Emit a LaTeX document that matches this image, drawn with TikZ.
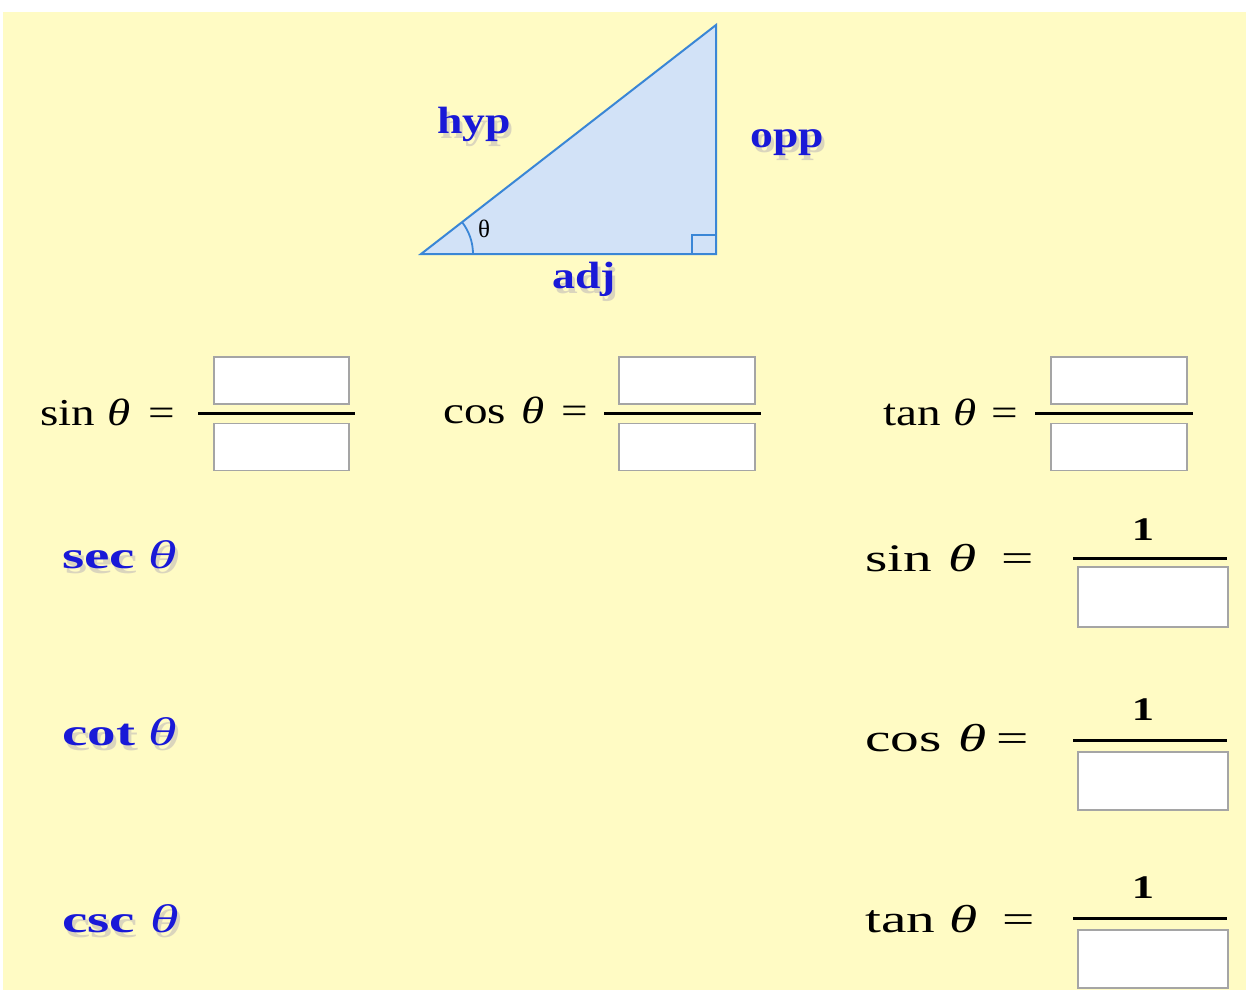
\documentclass[tikz,border=0pt]{standalone}
\usepackage{fontspec}
\setmainfont{Liberation Serif}
\usepackage{graphicx}
\definecolor{bg}{RGB}{255,251,196}
\definecolor{tri}{RGB}{210,226,247}
\definecolor{triline}{RGB}{58,134,214}
\definecolor{lab}{RGB}{25,25,215}
\definecolor{boxline}{RGB}{165,165,165}
\definecolor{shadowc}{RGB}{110,100,170}
\newcommand\Tx[3]{{\fontsize{#1}{#1}\selectfont\scalebox{#2}[1]{#3}}}
\newcommand\BlueLabel[4]{%
  \node[shd] (#1s) at (#2+3,#3+5) {#4};
  \node[lbl] (#1) at (#2,#3) {#4};}
\tikzset{
  lbl/.style={anchor=base west, inner sep=0pt, text=lab},
  shd/.style={anchor=base west, inner sep=0pt, text=shadowc, opacity=0.25},
  eqtext/.style={anchor=base west, inner sep=0pt, text=black},
  onetext/.style={anchor=base, inner sep=0pt, text=black},
  ansbox/.style={draw=boxline, fill=white, line width=1.6pt, inner sep=0pt},
  fracline/.style={draw=black, line width=3pt},
}
\newcommand\RA[1]{\Tx{38}{1.24}{#1}}
\newcommand\RB[1]{\Tx{39}{1.47}{#1}}
\begin{document}
\begin{tikzpicture}[x=1pt,y=-1pt]
\useasboundingbox (0,0) rectangle (1246,994);
\fill[white] (0,0) rectangle (1246,994);
\fill[bg] (3,12) rectangle (1246,990);

% triangle
\coordinate (A) at (421,254);
\coordinate (B) at (716,254);
\coordinate (C) at (716,25);
\filldraw[fill=tri, draw=triline, line width=2pt, line join=miter] (A) -- (B) -- (C) -- cycle;
\draw[triline, line width=1.8pt] (692,254) -- (692,235) -- (716,235);
\draw[triline, line width=1.8pt] (473,254) arc[start angle=0, end angle=-37.8, radius=52];
\node[eqtext] (th) at (478,237) {\Tx{25}{1}{θ}};

\BlueLabel{hyp}{437}{133}{\Tx{38}{1.2}{\bfseries hyp}}
\BlueLabel{opp}{750}{147}{\Tx{38}{1.2}{\bfseries opp}}
\BlueLabel{adj}{552}{288}{\Tx{38}{1.2}{\bfseries adj}}

% row 1
\node[eqtext] (sinA) at (40,425) {\RA{sin}};
\node[eqtext] (sinAt) at (107,425) {\RA{\itshape θ}};
\node[eqtext] (sinAe) at (148,425) {\RA{=}};
\node[ansbox, minimum width=135pt, minimum height=47pt] (sinN) at (281.5,380.5) {};
\node[ansbox, minimum width=135pt, minimum height=47pt] (sinD) at (281.5,447) {};
\draw[fracline] (198,413) -- (355,413);

\node[eqtext] (cosA) at (443,423) {\RA{cos}};
\node[eqtext] (cosAt) at (521,423) {\RA{\itshape θ}};
\node[eqtext] (cosAe) at (561,423) {\RA{=}};
\node[ansbox, minimum width=136pt, minimum height=47pt] (cosN) at (687,380.5) {};
\node[ansbox, minimum width=136pt, minimum height=47pt] (cosD) at (687,447) {};
\draw[fracline] (604,413) -- (761,413);

\node[eqtext] (tanA) at (883,425) {\RA{tan}};
\node[eqtext] (tanAt) at (953,425) {\RA{\itshape θ}};
\node[eqtext] (tanAe) at (991,425) {\RA{=}};
\node[ansbox, minimum width=136pt, minimum height=47pt] (tanN) at (1119,380.5) {};
\node[ansbox, minimum width=136pt, minimum height=47pt] (tanD) at (1119,447) {};
\draw[fracline] (1035,413) -- (1193,413);

% left labels
\BlueLabel{sec}{62}{568}{\Tx{38}{1.5}{\bfseries sec}}
\BlueLabel{secT}{148}{568}{\Tx{40}{1.45}{\itshape θ}}
\BlueLabel{cot}{62}{745}{\Tx{38}{1.5}{\bfseries cot}}
\BlueLabel{cotT}{148}{745}{\Tx{40}{1.45}{\itshape θ}}
\BlueLabel{csc}{62}{932}{\Tx{38}{1.5}{\bfseries csc}}
\BlueLabel{cscT}{150}{932}{\Tx{40}{1.45}{\itshape θ}}

% right column
\node[eqtext] (sinB) at (865,571) {\RB{sin}};
\node[eqtext] (sinBt) at (948,571) {\RB{\itshape θ}};
\node[eqtext] (sinBe) at (1001,571) {\RB{=}};
\node[onetext] (oneA) at (1143,540) {\Tx{33}{1.35}{\bfseries 1}};
\draw[fracline] (1073,558) -- (1227,558);
\node[ansbox, minimum width=150pt, minimum height=60pt] (sinR) at (1153,597) {};

\node[eqtext] (cosB) at (865,751) {\RB{cos}};
\node[eqtext] (cosBt) at (958,751) {\RB{\itshape θ}};
\node[eqtext] (cosBe) at (996,751) {\RB{=}};
\node[onetext] (oneB) at (1143,720) {\Tx{33}{1.35}{\bfseries 1}};
\draw[fracline] (1073,740) -- (1227,740);
\node[ansbox, minimum width=150pt, minimum height=58pt] (cosR) at (1153,781) {};

\node[eqtext] (tanB) at (865,932) {\RB{tan}};
\node[eqtext] (tanBt) at (949,932) {\RB{\itshape θ}};
\node[eqtext] (tanBe) at (1002,932) {\RB{=}};
\node[onetext] (oneC) at (1143,898) {\Tx{33}{1.35}{\bfseries 1}};
\draw[fracline] (1073,918) -- (1227,918);
\node[ansbox, minimum width=150pt, minimum height=58pt] (tanR) at (1153,959) {};
\end{tikzpicture}
\end{document}
